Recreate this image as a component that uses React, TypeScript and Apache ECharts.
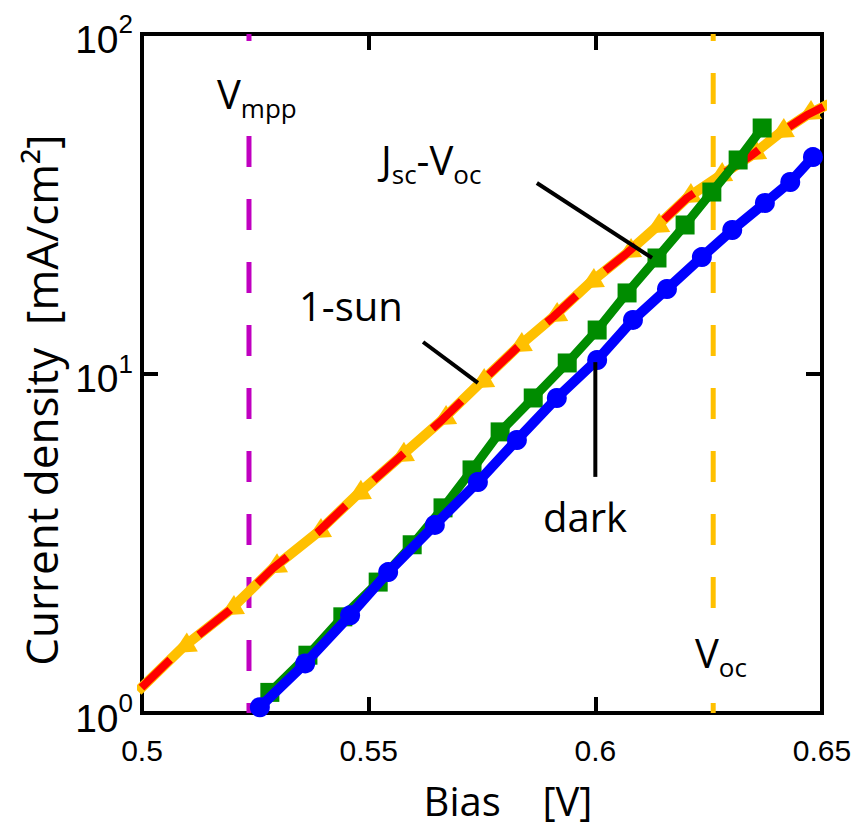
import React, { useEffect, useRef } from "react";
import * as echarts from "echarts";

// ---------- data ----------
const darkV = [0.526, 0.536, 0.5459, 0.5543, 0.5646, 0.5741, 0.5827, 0.5915, 0.6004, 0.6083, 0.6158, 0.6235, 0.6302, 0.6374, 0.643, 0.648];
const darkJ = [1.04, 1.4, 1.94, 2.6, 3.58, 4.79, 6.37, 8.47, 10.96, 14.38, 17.74, 22.03, 26.47, 31.78, 36.65, 43.41];

const jscVocV = [0.5282, 0.5366, 0.5443, 0.5521, 0.5596, 0.5664, 0.5728, 0.579, 0.5863, 0.5938, 0.6004, 0.607, 0.6136, 0.6198, 0.6257, 0.6315, 0.6368];
const jscVocJ = [1.15, 1.48, 1.92, 2.43, 3.13, 4.02, 5.2, 6.73, 8.47, 10.74, 13.43, 17.27, 21.89, 27.38, 34.24, 42.55, 52.86];

const sunV = [0.4991, 0.509, 0.5194, 0.5289, 0.5386, 0.5474, 0.5569, 0.5662, 0.5746, 0.5829, 0.5907, 0.5988, 0.607, 0.6132, 0.6202, 0.6271, 0.6346, 0.6407, 0.6467, 0.6515];
const sunJ = [1.16, 1.56, 2.01, 2.67, 3.39, 4.39, 5.68, 7.3, 9.38, 11.97, 14.67, 18.48, 22.64, 26.83, 32.88, 37.92, 44.02, 51.1, 57.72, 62.2];

// model fit drawn over the 1-sun data
const fitV = sunV;
const fitJ = sunJ;

const vMpp = 0.5236;
const vOc = 0.626;

const jscLeaderV = [0.5871, 0.6125];
const jscLeaderJ = [36.4, 21.9];
const sunLeaderV = [0.562, 0.5741];
const sunLeaderJ = [12.38, 9.38];
const darkLeaderV = [0.6, 0.6];
const darkLeaderJ = [10.8, 4.96];

const xTicks = [0.5, 0.55, 0.6, 0.65];
const yMin = 1;
const yMax = 100;

const pairs = (xs: number[], ys: number[]) => xs.map((x, i) => [x, ys[i]]);

const SANS = "'Open Sans', 'Noto Sans', sans-serif";
const ARIAL = "'Liberation Sans', Arial, sans-serif";

export default function App() {
  const ref = useRef<HTMLDivElement>(null);

  useEffect(() => {
    if (!ref.current) return;
    const chart = echarts.init(ref.current, undefined, { renderer: "svg" });

    const axisLine = { show: true, lineStyle: { color: "#000", width: 4, cap: "square" as const } };
    const axisTick = { show: true, inside: true, length: 16, lineStyle: { color: "#000", width: 4 } };

    const xBase = {
      type: "value" as const,
      min: xTicks[0],
      max: xTicks[xTicks.length - 1],
      interval: 0.05,
      axisLine,
      axisTick,
      splitLine: { show: false },
    };
    const yBase = {
      type: "log" as const,
      logBase: 10,
      min: yMin,
      max: yMax,
      axisLine,
      axisTick,
      minorTick: { show: false },
      splitLine: { show: false },
    };

    const subRich = (size: number) => ({
      m: { fontSize: size, fontFamily: SANS, lineHeight: 60, color: "#000" },
      s: { fontSize: Math.round(size * 0.66), fontFamily: SANS, lineHeight: 60, padding: [30, 0, 0, 0], color: "#000" },
    });

    const vline = (v: number, color: string) => ({
      type: "line" as const,
      data: [[v, yMin], [v, yMax]],
      symbol: "none",
      silent: true,
      z: 1,
      lineStyle: { color, width: 5, type: [31, 32], dashOffset: 21 },
    });

    const leader = (xs: number[], ys: number[]) => ({
      type: "line" as const,
      data: pairs(xs, ys),
      symbol: "none",
      silent: true,
      z: 8,
      lineStyle: { color: "#000", width: 4 },
    });

    chart.setOption({
      animation: false,
      backgroundColor: "#fff",
      grid: { left: 142, right: 38, top: 34, bottom: 116, containLabel: false },
      xAxis: [
        {
          ...xBase,
          position: "bottom",
          axisLabel: {
            show: true,
            margin: 22,
            fontSize: 30,
            fontFamily: ARIAL,
            color: "#000",
            showMinLabel: true,
            showMaxLabel: true,
            formatter: (v: number) => String(+v.toFixed(2)),
          },
        },
        { ...xBase, position: "top", axisLabel: { show: false } },
      ],
      yAxis: [
        {
          ...yBase,
          position: "left",
          axisLabel: {
            show: true,
            margin: 9,
            padding: [10, 0, 0, 0],
            formatter: (v: number) => `{b|10}{s|${Math.round(Math.log10(v))}}`,
            rich: {
              b: { fontSize: 39, fontFamily: ARIAL, lineHeight: 56, color: "#000" },
              s: { fontSize: 26, fontFamily: ARIAL, lineHeight: 56, padding: [0, 0, 30, 0], color: "#000" },
            },
          },
        },
        { ...yBase, position: "right", axisLabel: { show: false } },
      ],
      series: [
        vline(vMpp, "#c000c0"),
        vline(vOc, "#ffc000"),
        {
          name: "1-sun",
          type: "line",
          data: pairs(sunV, sunJ),
          symbol: "triangle",
          symbolSize: 22,
          symbolRotate: 120,
          z: 3,
          itemStyle: { color: "#ffc000" },
          lineStyle: { color: "#ffc000", width: 10 },
        },
        {
          name: "fit",
          type: "line",
          data: pairs(fitV, fitJ),
          symbol: "none",
          z: 4,
          lineStyle: { color: "#ff0000", width: 8, type: [40, 38], dashOffset: 73 },
        },
        {
          name: "Jsc-Voc",
          type: "line",
          data: pairs(jscVocV, jscVocJ),
          symbol: "rect",
          symbolSize: 19,
          z: 5,
          itemStyle: { color: "#008c00" },
          lineStyle: { color: "#008c00", width: 9 },
        },
        {
          name: "dark",
          type: "line",
          data: pairs(darkV, darkJ),
          symbol: "circle",
          symbolSize: 20,
          z: 6,
          itemStyle: { color: "#0000ff" },
          lineStyle: { color: "#0000ff", width: 10 },
        },
        leader(jscLeaderV, jscLeaderJ),
        leader(sunLeaderV, sunLeaderJ),
        leader(darkLeaderV, darkLeaderJ),
      ],
      graphic: [
        {
          type: "text",
          x: 217,
          y: 63,
          z: 100,
          style: {
            text: "{m|V}{s|mpp}",
            rich: subRich(40),
            verticalAlign: "top",
            backgroundColor: "#fff",
          },
        },
        {
          type: "text",
          x: 381,
          y: 129,
          z: 100,
          style: {
            text: "{m|J}{s|sc}{m|-V}{s|oc}",
            rich: subRich(40),
            verticalAlign: "top",
          },
        },
        {
          type: "text",
          x: 299,
          y: 305,
          z: 100,
          style: { text: "1-sun", fontSize: 40, fontFamily: SANS, fill: "#000", verticalAlign: "middle" },
        },
        {
          type: "text",
          x: 543,
          y: 516,
          z: 100,
          style: { text: "dark", fontSize: 40, fontFamily: SANS, fill: "#000", verticalAlign: "middle" },
        },
        {
          type: "text",
          x: 695,
          y: 622,
          z: 100,
          style: {
            text: "{m|V}{s|oc}",
            rich: subRich(40),
            verticalAlign: "top",
            backgroundColor: "#fff",
          },
        },
        {
          type: "text",
          x: 508,
          y: 800,
          z: 100,
          style: {
            text: "Bias    [V]",
            fontSize: 40,
            fontFamily: SANS,
            fill: "#000",
            align: "center",
            verticalAlign: "middle",
          },
        },
        {
          type: "text",
          x: 41,
          y: 400,
          rotation: Math.PI / 2,
          z: 100,
          style: {
            text: "Current density  [mA/cm²]",
            fontSize: 44,
            fontFamily: SANS,
            fill: "#000",
            align: "center",
            verticalAlign: "middle",
          },
        },
      ],
    });

    return () => chart.dispose();
  }, []);

  return (
    <div
      ref={ref}
      style={{ position: "fixed", left: 0, top: 0, width: 860, height: 829, background: "#fff" }}
    />
  );
}
